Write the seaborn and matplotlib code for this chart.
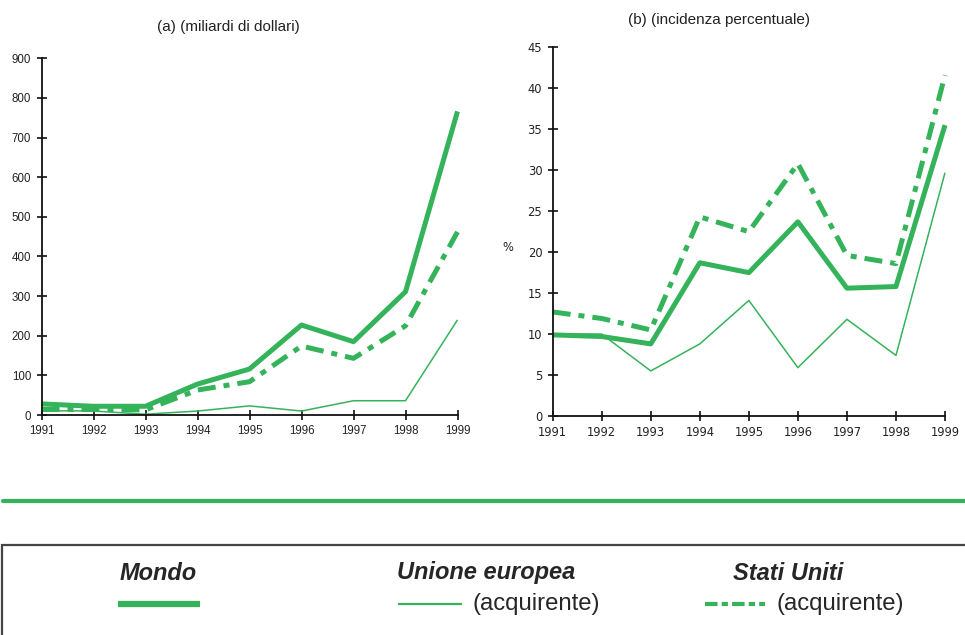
import matplotlib
matplotlib.use("Agg")
import matplotlib.pyplot as plt
import seaborn as sns
import pandas as pd
from matplotlib.lines import Line2D
from matplotlib.patches import Rectangle

years = [1991, 1992, 1993, 1994, 1995, 1996, 1997, 1998, 1999]

# (a) miliardi di dollari
mondo_usd = [28, 22, 22, 78, 116, 227, 185, 311, 766]
ue_usd = [11, 10, 2, 10, 23, 10, 36, 36, 240]
usa_usd = [14, 14, 13, 63, 84, 174, 143, 225, 462]

# (b) incidenza percentuale
mondo_pct = [9.9, 9.7, 8.8, 18.7, 17.5, 23.7, 15.6, 15.8, 35.5]
ue_pct = [10.0, 10.0, 5.5, 8.8, 14.1, 5.9, 11.8, 7.4, 29.7]
usa_pct = [12.7, 11.9, 10.5, 24.3, 22.5, 30.8, 19.6, 18.6, 41.6]

series_names = ["Mondo", "Unione europea", "Stati Uniti"]
left_ticks = [0, 100, 200, 300, 400, 500, 600, 700, 800, 900]
right_ticks = [0, 5, 10, 15, 20, 25, 30, 35, 40, 45]

GREEN = "#35b35a"
styles = {
    "Mondo": dict(lw=3.6, ls="-"),
    "Unione europea": dict(lw=1.1, ls="-"),
    "Stati Uniti": dict(lw=3.6, ls=(0, (3.6, 1.6, 1.2, 1.6))),
}

sns.set_style("ticks")
plt.rcParams["font.family"] = ["Liberation Sans", "DejaVu Sans"]

W, H = 965, 635
fig = plt.figure(figsize=(9.65, 6.35), dpi=100)


def px_axes(x0, x1, ytop, ybot):
    return fig.add_axes([x0 / W, (H - ybot) / H, (x1 - x0) / W, (ybot - ytop) / H])


def draw(ax, vals, ylim, yticks, tick_font, tick_size):
    for name, v in zip(series_names, vals):
        df = pd.DataFrame({"anno": years, "valore": v})
        sns.lineplot(data=df, x="anno", y="valore", ax=ax, color=GREEN,
                     linewidth=styles[name]["lw"], linestyle=styles[name]["ls"],
                     solid_capstyle="butt", dash_capstyle="butt", clip_on=False)
    ax.set_xlim(years[0], years[-1])
    ax.set_ylim(*ylim)
    ax.set_xticks(years)
    ax.set_yticks(yticks)
    ax.set_xlabel("")
    ax.set_ylabel("")
    sns.despine(ax=ax)
    for s in ("left", "bottom"):
        ax.spines[s].set_color("#111111")
        ax.spines[s].set_linewidth(1.3)
    ax.tick_params(direction="inout", length=7, width=1.2, color="#111111",
                   labelcolor="#222222", pad=4)
    for lab in ax.get_xticklabels() + ax.get_yticklabels():
        lab.set_fontfamily(tick_font)
        lab.set_fontsize(tick_size)
    ax.patch.set_alpha(0)


ax1 = px_axes(41.5, 457.5, 58.3, 415)
draw(ax1, [mondo_usd, ue_usd, usa_usd], (0, 900), left_ticks, "Liberation Sans", 8.3)
fig.text(228 / W, 1 - 27 / H, "(a) (miliardi di dollari)", ha="center", va="center",
         fontsize=11, color="#222222")

ax2 = px_axes(552.7, 945, 47.3, 416)
draw(ax2, [mondo_pct, ue_pct, usa_pct], (0, 45), right_ticks, "DejaVu Sans", 8.3)
fig.text(719 / W, 1 - 20 / H, "(b) (incidenza percentuale)", ha="center", va="center",
         fontsize=11, color="#222222")
fig.text(508 / W, 1 - 247 / H, "%", ha="center", va="center", fontsize=8.3,
         family="DejaVu Sans", color="#222222")

# separator and legend box
fig.add_artist(Line2D([3 / W, 1.0], [1 - 501 / H] * 2, color=GREEN, lw=3.0,
                      transform=fig.transFigure))
fig.add_artist(Rectangle((2 / W, -0.05), 1.05, (H - 545) / H + 0.05, fill=False,
                         edgecolor="#444444", lw=1.6, transform=fig.transFigure))

ty = 1 - 573 / H
ly = 1 - 604 / H
fig.text(120 / W, ty, "Mondo", fontsize=17, fontweight="bold", style="italic", va="center")
fig.text(397 / W, ty, "Unione europea", fontsize=17, fontweight="bold", style="italic", va="center")
fig.text(733 / W, ty, "Stati Uniti", fontsize=17, fontweight="bold", style="italic", va="center")
fig.add_artist(Line2D([118 / W, 200 / W], [ly, ly], color=GREEN, lw=4.5,
                      solid_capstyle="butt", transform=fig.transFigure))
fig.add_artist(Line2D([398 / W, 462 / W], [ly, ly], color=GREEN, lw=1.6,
                      solid_capstyle="butt", transform=fig.transFigure))
fig.add_artist(Line2D([705 / W, 765 / W], [ly, ly], color=GREEN, lw=3.0,
                      ls=(0, (3.0, 1.0, 1.5, 1.0)), dash_capstyle="butt",
                      transform=fig.transFigure))
fig.text(473 / W, ly, "(acquirente)", fontsize=17.2, va="center")
fig.text(777 / W, ly, "(acquirente)", fontsize=17.2, va="center")

fig.savefig("out.png", dpi=100, facecolor="white")
